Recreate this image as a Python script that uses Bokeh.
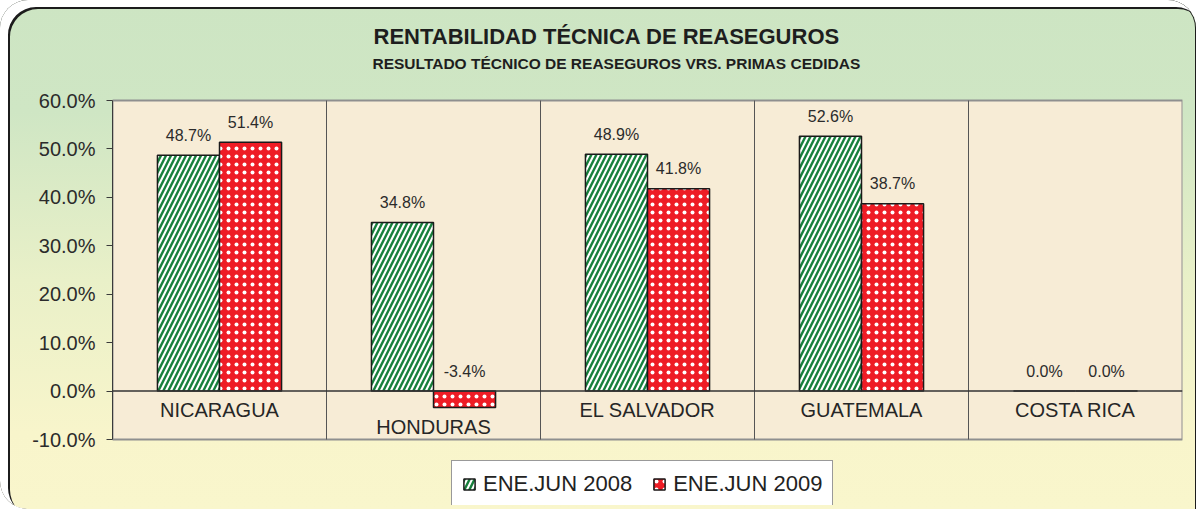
from bokeh.plotting import figure
from bokeh.models import (Range1d, FixedTicker, PrintfTickFormatter, Span,
                          Legend, LegendItem, ColumnDataSource)
from bokeh.core.properties import value
from bokeh.embed import file_html
from bokeh.resources import INLINE
import numpy as np

categories = ["NICARAGUA", "HONDURAS", "EL SALVADOR", "GUATEMALA", "COSTA RICA"]
series_names = ["ENE.JUN 2008", "ENE.JUN 2009"]
v2008 = [48.7, 34.8, 48.9, 52.6, 0.0]
v2009 = [51.4, -3.4, 41.8, 38.7, 0.0]
y_ticks = [-10, 0, 10, 20, 30, 40, 50, 60]

title_main = "RENTABILIDAD TÉCNICA DE REASEGUROS"
title_sub = "RESULTADO TÉCNICO DE REASEGUROS VRS. PRIMAS CEDIDAS"

FONT = "Liberation Sans"
n = len(categories)
xc = np.arange(n) + 0.5
bw = 0.29
off = 0.145
y_lo, y_hi = min(y_ticks), max(y_ticks)

# layout (pixels): plot area 339 px tall starting 100 px from the top;
# the frame is extended above (titles) and below (legend) it
W, H = 1196, 509
above_px, area_px, below_px, bottom_px = 100, 339, 66, 4
px_per_unit = area_px / (y_hi - y_lo)
y_start = y_lo - below_px / px_per_unit
y_end = y_hi + above_px / px_per_unit

p = figure(width=W, height=H, output_backend="svg", toolbar_location=None,
           x_range=Range1d(0, n), y_range=Range1d(y_start, y_end),
           x_axis_location=None, min_border_left=112, min_border_right=14,
           min_border_top=0, min_border_bottom=bottom_px,
           background_fill_color=None, border_fill_color=None, outline_line_color=None,
           styles={"background": "linear-gradient(to bottom, #cde5c3 0%, #cfe6c4 22%, #e9f0c8 55%, #f8f5cb 85%, #f9f6cc 100%)",
                   "border-radius": "28px 28px 0 28px",
                   "box-shadow": "inset 8px 7px 0 0 #ffffff, inset 10px 9px 0 0 #1c1c1c, inset -1px 0 0 0 #1c1c1c"})

p.xgrid.grid_line_color = None
p.ygrid.grid_line_color = None

# plot area
p.quad(left=0, right=n, bottom=y_lo, top=y_hi, fill_color="#f7ecd6",
       line_color="#8f8f8f", line_width=2)
# category separators
sep = list(range(1, n))
p.segment(x0=sep, x1=sep, y0=[y_lo] * len(sep), y1=[y_hi] * len(sep),
          line_color="#555555", line_width=1)

yax = p.yaxis[0]
yax.bounds = (y_lo, y_hi)
yax.ticker = FixedTicker(ticks=y_ticks)
yax.formatter = PrintfTickFormatter(format="%.1f%%")
yax.major_label_text_font = FONT
yax.major_label_text_font_size = "20px"
yax.major_label_text_color = "#2b2b2b"
yax.axis_line_color = "#3a3a3a"
yax.major_tick_line_color = "#3a3a3a"
yax.major_tick_out = 6
yax.major_tick_in = 0
yax.minor_tick_line_color = None
yax.major_label_standoff = 11

p.add_layout(Span(location=0, dimension="width", line_color="#333333", line_width=1.5))

src = ColumnDataSource(dict(x1=xc - off, x2=xc + off, a=v2008, b=v2009))
r1 = p.vbar(x="x1", top="a", bottom=0, width=bw, source=src, fill_color="white",
            hatch_pattern="/", hatch_color="#16803c", hatch_scale=10, hatch_weight=2.4,
            line_color="#1a1a1a", line_width=1.5)
r2 = p.vbar(x="x2", top="b", bottom=0, width=bw, source=src, fill_color="#ee1c25",
            hatch_pattern="dot", hatch_color="white", hatch_scale=8, hatch_weight=2,
            line_color="#1a1a1a", line_width=1.5)

# value labels
for xs, vals in ((xc - off, v2008), (xc + off, v2009)):
    p.text(x=list(xs), y=[max(v, 0) for v in vals], text=[f"{v:.1f}%" for v in vals],
           text_font=value(FONT), text_font_size="16px", text_color="#2b2b2b",
           text_align="center", text_baseline="alphabetic", y_offset=-20)

# category labels
p.text(x=list(xc), y=[min(a, b, 0) for a, b in zip(v2008, v2009)], text=categories,
       text_font=value(FONT), text_font_size="20px", text_color="#262626",
       text_align="center", text_baseline="top", y_offset=8)

# titles, placed relative to the top-left corner of the plot area
p.text(x=[0], y=[y_hi], text=[title_main], text_font=value(FONT), text_font_size="22px",
       text_font_style="bold", text_color="#1e1e1e", text_align="left",
       text_baseline="middle", x_offset=261, y_offset=-64)
p.text(x=[0], y=[y_hi], text=[title_sub], text_font=value(FONT), text_font_size="15.5px",
       text_font_style="bold", text_color="#1e1e1e", text_align="left",
       text_baseline="middle", x_offset=260, y_offset=-37.5)

legend = Legend(items=[LegendItem(label=series_names[0], renderers=[r1]),
                       LegendItem(label=series_names[1], renderers=[r2])],
                orientation="horizontal", location=(339, -3),
                label_text_font=FONT, label_text_font_size="22px", label_text_color="#222222",
                glyph_width=14, glyph_height=14, label_standoff=7, spacing=20,
                padding=10, border_line_color="#333333", border_line_width=1,
                background_fill_color="white", background_fill_alpha=1, margin=0)
p.add_layout(legend, "center")

open("out.html", "w").write(file_html(p, INLINE))
